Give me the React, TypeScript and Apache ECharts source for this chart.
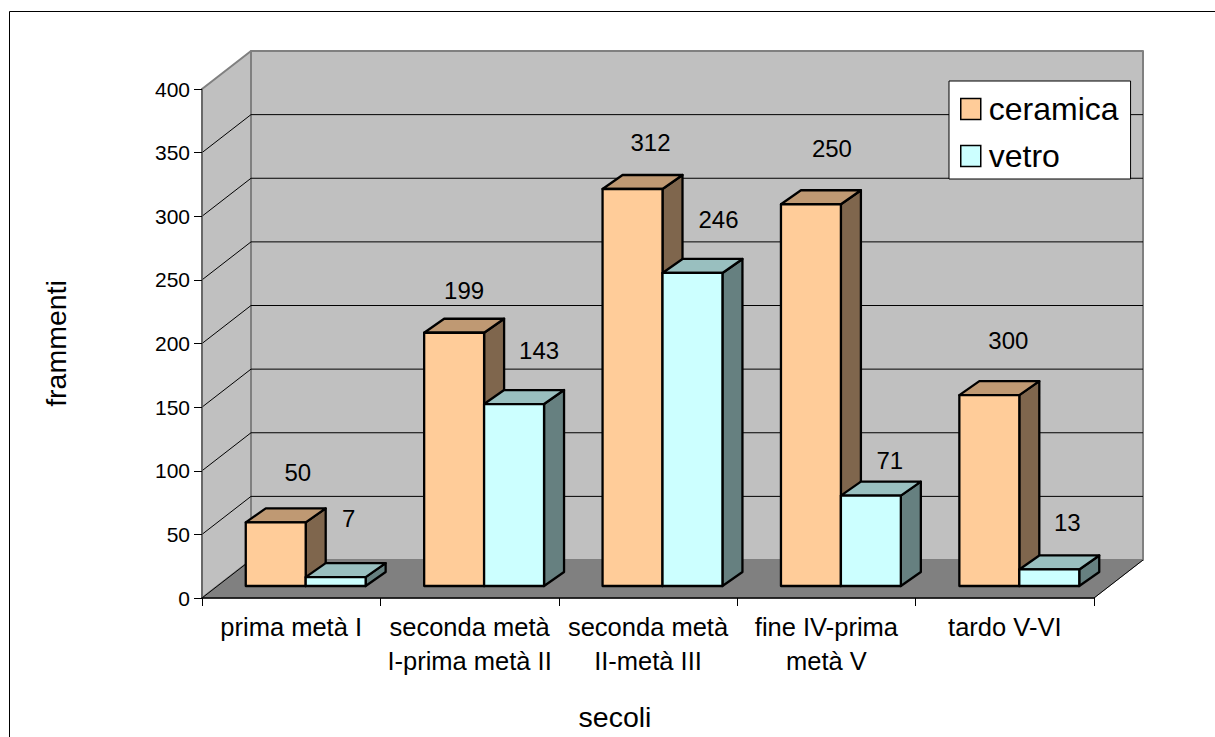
import React, { useEffect, useRef } from "react";
import * as echarts from "echarts";

const categories = [
  "prima metà I",
  "seconda metà\nI-prima metà II",
  "seconda metà\nII-metà III",
  "fine IV-prima\nmetà V",
  "tardo V-VI",
];
const yTicks = [0, 50, 100, 150, 200, 250, 300, 350, 400];
const ceramica = [50, 199, 312, 300, 150];
const vetro = [7, 143, 246, 71, 13];
// The printed labels, which differ from the drawn heights on two bars in the reference.
const ceramicaLabels = ["50", "199", "312", "250", "300"];
const vetroLabels = ["7", "143", "246", "71", "13"];
// Hand-placed label nudges relative to each bar's front-top centre [dx, dy].
const ceramicaNudges = [[22, -50], [10, -42], [18, -46], [21, -56], [19, -55]];
const vetroNudges = [[13, -59], [25, -54], [26, -53], [19, -35], [18, -47]];

const FONT = '"Liberation Sans", Arial, sans-serif';
const WALL_DX = 49;
const WALL_DY = -38;
const BAR_SHIFT_X = 14.5;
const BAR_SHIFT_Y = -12;
const DEPTH_DX = 20;
const DEPTH_DY = -14;
const BAR_FRACTION = 0.336;
const BAR_STROKE = 2.3;

const poly = (points: number[][], fill: string, stroke: string, lineWidth: number) => ({
  type: "polygon",
  shape: { points },
  style: { fill, stroke, lineWidth, lineJoin: "round" },
});
const seg = (a: number[], b: number[], stroke: string, lineWidth: number) => ({
  type: "line",
  shape: { x1: a[0], y1: a[1], x2: b[0], y2: b[1] },
  style: { stroke, lineWidth },
});

function barSeries(
  name: string,
  values: number[],
  labels: string[],
  nudges: number[][],
  slot: number,
  front: string,
  top: string,
  side: string,
) {
  return {
    type: "custom",
    name,
    z: 3,
    itemStyle: { color: front },
    data: values.map((v, i) => [i, v]),
    encode: { x: 0, y: 1 },
    renderItem: (params: any, api: any) => {
      const i = api.value(0);
      const v = api.value(1);
      const band = api.size([1, 0])[0];
      const w = band * BAR_FRACTION;
      const centre = api.coord([i, 0])[0] + BAR_SHIFT_X;
      const x0 = centre + (slot - 1) * w;
      const x1 = x0 + w;
      const base = api.coord([i, 0])[1] + BAR_SHIFT_Y;
      const topY = base - (api.coord([i, 0])[1] - api.coord([i, v])[1]);
      const d = params.dataIndex;
      return {
        type: "group",
        children: [
          poly(
            [[x1, topY], [x1 + DEPTH_DX, topY + DEPTH_DY], [x1 + DEPTH_DX, base + DEPTH_DY], [x1, base]],
            side, "#000", BAR_STROKE,
          ),
          poly(
            [[x0, topY], [x0 + DEPTH_DX, topY + DEPTH_DY], [x1 + DEPTH_DX, topY + DEPTH_DY], [x1, topY]],
            top, "#000", BAR_STROKE,
          ),
          poly([[x0, topY], [x1, topY], [x1, base], [x0, base]], front, "#000", BAR_STROKE),
          {
            type: "text",
            style: {
              x: (x0 + x1) / 2 + nudges[d][0],
              y: topY + nudges[d][1],
              text: labels[d],
              fill: "#000",
              font: `24px ${FONT}`,
              align: "center",
              verticalAlign: "middle",
            },
          },
        ],
      };
    },
  };
}

const wallSeries = {
  type: "custom",
  name: "walls",
  z: 1,
  silent: true,
  data: [[0, 0]],
  encode: { x: 0, y: 1 },
  renderItem: (params: any, api: any) => {
    const { x, width } = params.coordSys;
    const xR = x + width;
    const yZero = api.coord([0, 0])[1];
    const yTop = api.coord([0, yTicks[yTicks.length - 1]])[1];
    const children: any[] = [
      poly(
        [[x + WALL_DX, yTop + WALL_DY], [xR + WALL_DX, yTop + WALL_DY], [xR + WALL_DX, yZero + WALL_DY], [x + WALL_DX, yZero + WALL_DY]],
        "#C0C0C0", "#808080", 2,
      ),
      poly(
        [[x, yTop], [x + WALL_DX, yTop + WALL_DY], [x + WALL_DX, yZero + WALL_DY], [x, yZero]],
        "#C0C0C0", "#808080", 2,
      ),
    ];
    yTicks.slice(1, -1).forEach((v) => {
      const y = api.coord([0, v])[1];
      children.push(seg([x, y], [x + WALL_DX, y + WALL_DY], "#000", 1));
      children.push(seg([x + WALL_DX, y + WALL_DY], [xR + WALL_DX, y + WALL_DY], "#000", 1));
    });
    children.push(
      poly(
        [[x, yZero], [x + WALL_DX, yZero + WALL_DY], [xR + WALL_DX, yZero + WALL_DY], [xR, yZero]],
        "#808080", "#808080", 1,
      ),
    );
    children.push(seg([x, yZero], [x + WALL_DX, yZero + WALL_DY], "#000", 1));
    children.push(seg([xR, yZero], [xR + WALL_DX, yZero + WALL_DY], "#000", 1));
    return { type: "group", children };
  },
};

export default function App() {
  const ref = useRef<HTMLDivElement>(null);
  useEffect(() => {
    const chart = echarts.init(ref.current!, undefined, { renderer: "svg" });
    chart.setOption({
      animation: false,
      backgroundColor: "#fff",
      grid: { left: 202, top: 89, width: 892, height: 509, containLabel: false, outerBoundsMode: "none" },
      legend: {
        left: 949,
        top: 81,
        orient: "vertical",
        backgroundColor: "#fff",
        borderColor: "#000",
        borderWidth: 1,
        padding: [12, 12, 7, 11],
        itemWidth: 20,
        itemHeight: 21,
        itemGap: 15,
        icon: "rect",
        selectedMode: false,
        textStyle: { fontFamily: FONT, fontSize: 32, color: "#000", padding: [0, 0, 0, 3] },
        data: [
          { name: "ceramica", itemStyle: { color: "#FFCC99", borderColor: "#000", borderWidth: 1.5 } },
          { name: "vetro", itemStyle: { color: "#CCFFFF", borderColor: "#000", borderWidth: 1.5 } },
        ],
        z: 10,
      },
      graphic: [
        {
          type: "polyline",
          silent: true,
          shape: { points: [[9.5, 737], [9.5, 11.5], [1215, 11.5]] },
          style: { stroke: "#000", lineWidth: 1, fill: "none" },
        },
      ],
      xAxis: {
        type: "category",
        data: categories,
        z: 2,
        name: "secoli",
        nameLocation: "middle",
        nameGap: 104,
        nameTextStyle: { fontFamily: FONT, fontSize: 28.5, color: "#000", padding: [0, 66, 0, 0] },
        axisLine: { show: true, lineStyle: { color: "#000", width: 1.5 } },
        axisTick: { show: true, length: 8, lineStyle: { color: "#000", width: 1 } },
        axisLabel: {
          interval: 0,
          fontFamily: FONT,
          fontSize: 25.5,
          lineHeight: 34,
          color: "#000",
          margin: 12,
        },
        splitLine: { show: false },
      },
      yAxis: {
        type: "value",
        min: 0,
        max: 400,
        interval: 50,
        z: 2,
        name: "frammenti",
        nameLocation: "middle",
        nameRotate: 90,
        nameGap: 132,
        nameTextStyle: { fontFamily: FONT, fontSize: 28.5, color: "#000" },
        axisLine: { show: true, lineStyle: { color: "#606060", width: 1.5 } },
        axisTick: { show: true, length: 8, lineStyle: { color: "#000", width: 1 } },
        axisLabel: { fontFamily: FONT, fontSize: 21, color: "#000", margin: 12 },
        splitLine: { show: false },
      },
      series: [
        wallSeries,
        barSeries("ceramica", ceramica, ceramicaLabels, ceramicaNudges, 0, "#FFCC99", "#BF9973", "#7F664D"),
        barSeries("vetro", vetro, vetroLabels, vetroNudges, 1, "#CCFFFF", "#99BFBF", "#668080"),
      ],
    });
    return () => chart.dispose();
  }, []);
  return (
    <div
      ref={ref}
      style={{ position: "absolute", left: 0, top: 0, width: 1215, height: 737 }}
    />
  );
}
